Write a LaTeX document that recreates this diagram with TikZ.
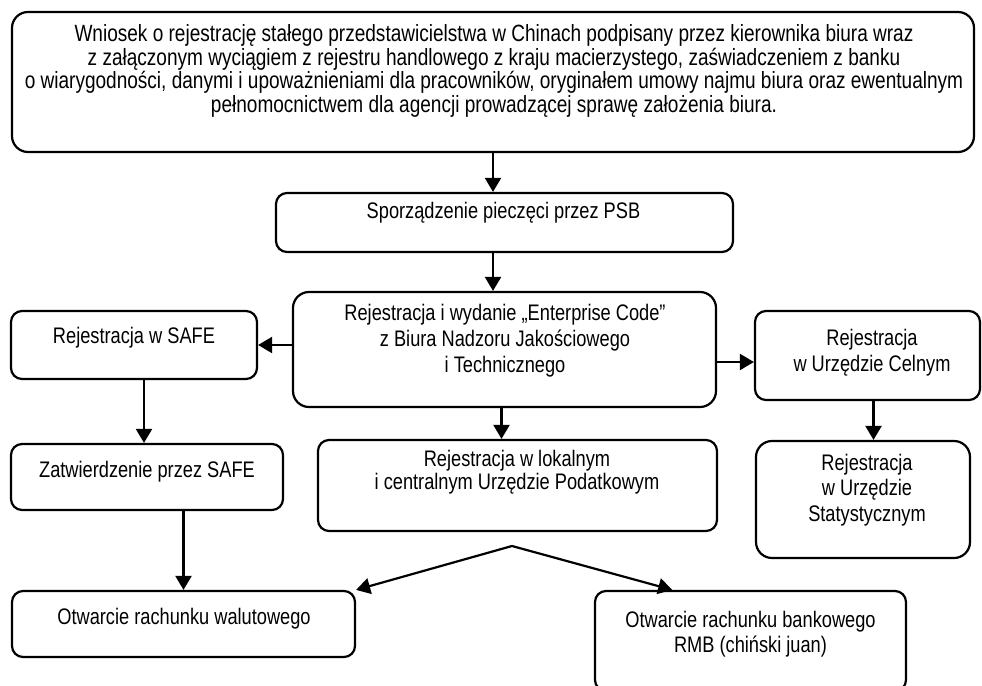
\documentclass[tikz,border=0pt]{standalone}
\usepackage{fontspec}
\setmainfont{Liberation Sans}[FakeStretch=0.81]
\usetikzlibrary{arrows.meta,calc}
\begin{document}
\begin{tikzpicture}[x=1pt,y=-1pt,
  box/.style={draw, line width=2.2pt, rounded corners=11pt, inner sep=0pt},
  bigbox/.style={box, rounded corners=16pt},
  txt/.style={align=center, inner sep=0pt},
  tf/.style={font=\fontsize{22.5}{#1}\selectfont},
  tfbig/.style={font=\fontsize{23.5}{#1}\selectfont},
  arr/.style={line width=2.2pt, -{Triangle[length=14pt,width=16pt]}},
  darr/.style={line width=2.2pt, {Triangle[length=14pt,width=16pt]}-{Triangle[length=14pt,width=16pt]}}]
\useasboundingbox (0,0) rectangle (982,685);

% boxes
\node[bigbox, minimum width=962pt, minimum height=140pt] (T) at (493,82) {};
\node[box, minimum width=457pt, minimum height=59pt] (S) at (504.5,222.5) {};
\node[bigbox, minimum width=423pt, minimum height=115pt] (R) at (504.5,349.5) {};
\node[box, minimum width=246pt, minimum height=68pt] (A) at (134,345) {};
\node[box, minimum width=225pt, minimum height=89pt] (C) at (867.5,355.5) {};
\node[box, minimum width=272pt, minimum height=66pt] (Z) at (147,477) {};
\node[box, minimum width=399pt, minimum height=91pt] (L) at (517.5,485.5) {};
\node[bigbox, minimum width=214pt, minimum height=117pt] (St) at (863,499.5) {};
\node[box, minimum width=343pt, minimum height=66pt] (W) at (183.5,624) {};
\node[box, minimum width=311pt, minimum height=100pt] (B) at (750.5,641) {};

% texts
\node[txt, tfbig=23.5] (tT) at (494,71) {Wniosek o rejestrację stałego przedstawicielstwa w Chinach podpisany przez kierownika biura wraz\\
z załączonym wyciągiem z rejestru handlowego z kraju macierzystego, zaświadczeniem z banku\\
o wiarygodności, danymi i upoważnieniami dla pracowników, oryginałem umowy najmu biura oraz ewentualnym\\
pełnomocnictwem dla agencji prowadzącej sprawę założenia biura.};
\node[txt, tf=25] (tS) at (503.5,213) {Sporządzenie pieczęci przez PSB};
\node[txt, tf=26] (tR) at (505,341) {Rejestracja i wydanie „Enterprise Code”\\z Biura Nadzoru Jakościowego\\i Technicznego};
\node[txt, tf=25] (tA) at (134,338) {Rejestracja w SAFE};
\node[txt, tf=26] (tC) at (872,353) {Rejestracja\\w Urzędzie Celnym};
\node[txt, tf=25] (tZ) at (147,472) {Zatwierdzenie przez SAFE};
\node[txt, tf=22.5] (tL) at (517,472) {Rejestracja w lokalnym\\i centralnym Urzędzie Podatkowym};
\node[txt, tf=25.5] (tSt) at (867,490) {Rejestracja\\w Urzędzie\\Statystycznym};
\node[txt, tf=25] (tW) at (184,619) {Otwarcie rachunku walutowego};
\node[txt, tf=25] (tB) at (750.5,634.5) {Otwarcie rachunku bankowego\\RMB (chiński juan)};

% connectors
\draw[arr] (T.south) -- (T.south |- S.north);
\draw[arr] (S.south -| T.south) -- (T.south |- R.north);
\draw[arr] (R.west |- A.east) -- (A.east);
\draw[arr] ([yshift=-12.5pt]R.east) -- ([yshift=-12.5pt]R.east -| C.west);
\draw[arr] ([xshift=-3pt]R.south) -- ([xshift=-3pt]R.south |- L.north);
\draw[arr] ([xshift=6pt]C.south) -- ([xshift=6pt]C.south |- St.north);
\draw[arr] ([xshift=10pt]A.south) -- ([xshift=10pt]A.south |- Z.north);
\draw[arr] (Z.south -| W.north) -- (W.north);
\coordinate (apex) at (512,546);
\draw[darr] (W.north east) -- (apex) -- ($(B.north west)!0.25!(B.north east)$);
\end{tikzpicture}
\end{document}
